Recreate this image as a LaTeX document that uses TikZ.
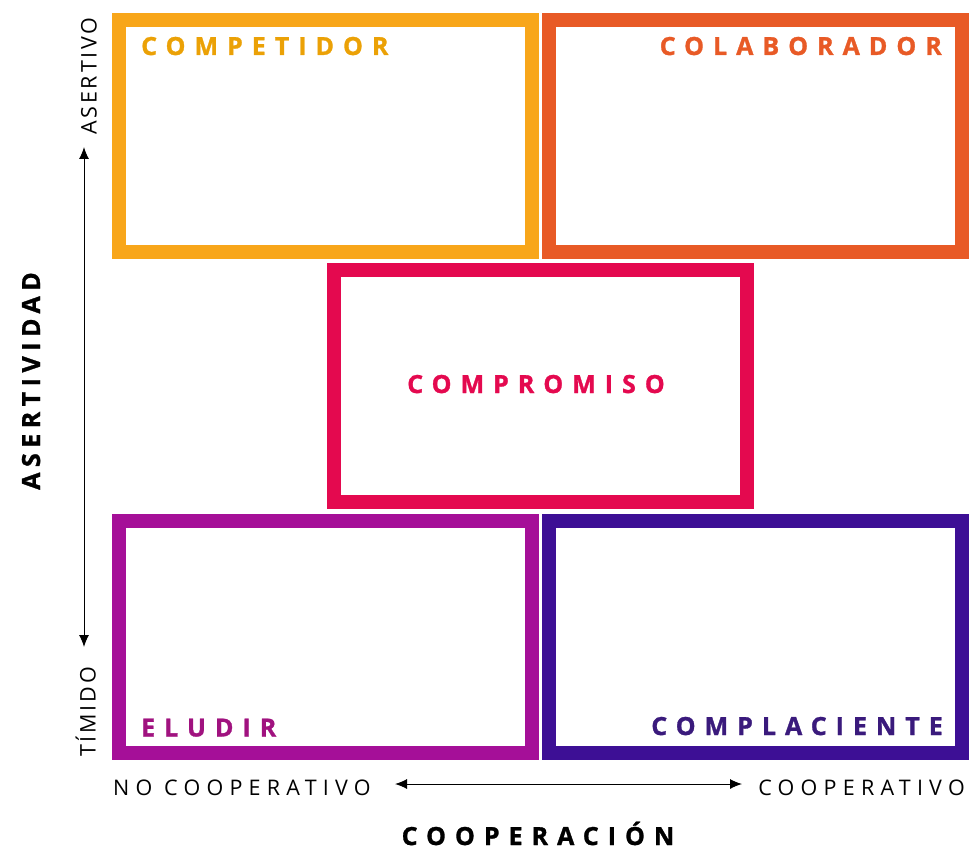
\documentclass[tikz,border=0pt]{standalone}
\usepackage{fontspec}
\setmainfont{Open Sans}
\newfontfamily\spacedfont[LetterSpace=36, BoldFeatures={FakeBold=1.2}]{Open Sans}
\newfontfamily\titlefont[LetterSpace=22, BoldFeatures={FakeBold=1.2}]{Open Sans}
\newfontfamily\axisfont[LetterSpace=29]{Open Sans}
\newfontfamily\sidefont[LetterSpace=13]{Open Sans}
\usetikzlibrary{arrows.meta}

\definecolor{cCompetidor}{HTML}{F8A61A}
\definecolor{cCompetidorTxt}{HTML}{EBA106}
\definecolor{cColaborador}{HTML}{E85A26}
\definecolor{cCompromiso}{HTML}{E4094F}
\definecolor{cEludir}{HTML}{A50F98}
\definecolor{cEludirTxt}{HTML}{A0127F}
\definecolor{cComplaciente}{HTML}{3D0F95}
\definecolor{cComplacienteTxt}{HTML}{3A1A7C}

\tikzset{
  frame/.style={draw=#1, line width=14pt, minimum width=413pt, minimum height=232pt, inner sep=0pt},
  boxlabel/.style={text=#1, inner sep=0pt, font=\spacedfont\bfseries\fontsize{25}{30}\selectfont},
  axislabel/.style={inner sep=0pt, font=\axisfont\fontsize{21.5}{26}\selectfont},
  sidelabel/.style={inner sep=0pt, rotate=90, font=\sidefont\fontsize{21.5}{26}\selectfont},
  axistitle/.style={inner sep=0pt, font=\spacedfont\bfseries\fontsize{25}{30}\selectfont},
  sidetitle/.style={inner sep=0pt, rotate=90, font=\titlefont\bfseries\fontsize{25}{30}\selectfont},
  axisarrow/.style={line width=1pt, {Latex[length=12pt,width=10pt]}-{Latex[length=12pt,width=10pt]}}
}

\begin{document}
\begin{tikzpicture}[x=1pt, y=-1pt]
	\useasboundingbox (0, 0) rectangle (971, 850);

	% the five frames
	\node[frame=cCompetidor] (competidor) at (325.5, 136) {};
	\node[frame=cColaborador] (colaborador) at (755.5, 136) {};
	\node[frame=cCompromiso] (compromiso) at (540, 386) {};
	\node[frame=cEludir] (eludir) at (325.5, 636.5) {};
	\node[frame=cComplaciente] (complaciente) at (755.5, 636.5) {};

	% their titles
	\node[boxlabel=cCompetidorTxt, anchor=base west] (tCompetidor) at (141, 55) {COMPETIDOR};
	\node[boxlabel=cColaborador, anchor=base east] (tColaborador) at (942, 55) {COLABORADOR};
	\node[boxlabel=cCompromiso, anchor=base] (tCompromiso) at (536, 393) {COMPROMISO};
	\node[boxlabel=cEludirTxt, anchor=base west] (tEludir) at (141, 736.5) {ELUDIR};
	\node[boxlabel=cComplacienteTxt, anchor=base east] (tComplaciente) at (943, 735) {COMPLACIENTE};

	% vertical axis
	\coordinate (asTop) at (84, 147);
	\coordinate (asBottom) at (84, 647);
	\draw[axisarrow] (asBottom) -- (asTop);
	\node[sidelabel, anchor=base west] (asertivo) at (96.5, 135) {ASERTIVO};
	\node[sidelabel, anchor=base west] (timido) at (95.5, 757) {TÍMIDO};
	\node[sidetitle, anchor=base] (asertividad) at (40, 381) {ASERTIVIDAD};

	% horizontal axis
	\coordinate (coLeft) at (395, 784);
	\coordinate (coRight) at (742, 784);
	\draw[axisarrow] (coLeft) -- (coRight);
	\node[axislabel, anchor=base west] (noCoop) at (113, 795) {NO COOPERATIVO};
	\node[axislabel, anchor=base east] (coop) at (965, 795) {COOPERATIVO};
	\node[axistitle, anchor=base] (cooperacion) at (538, 845) {COOPERACIÓN};
\end{tikzpicture}
\end{document}
